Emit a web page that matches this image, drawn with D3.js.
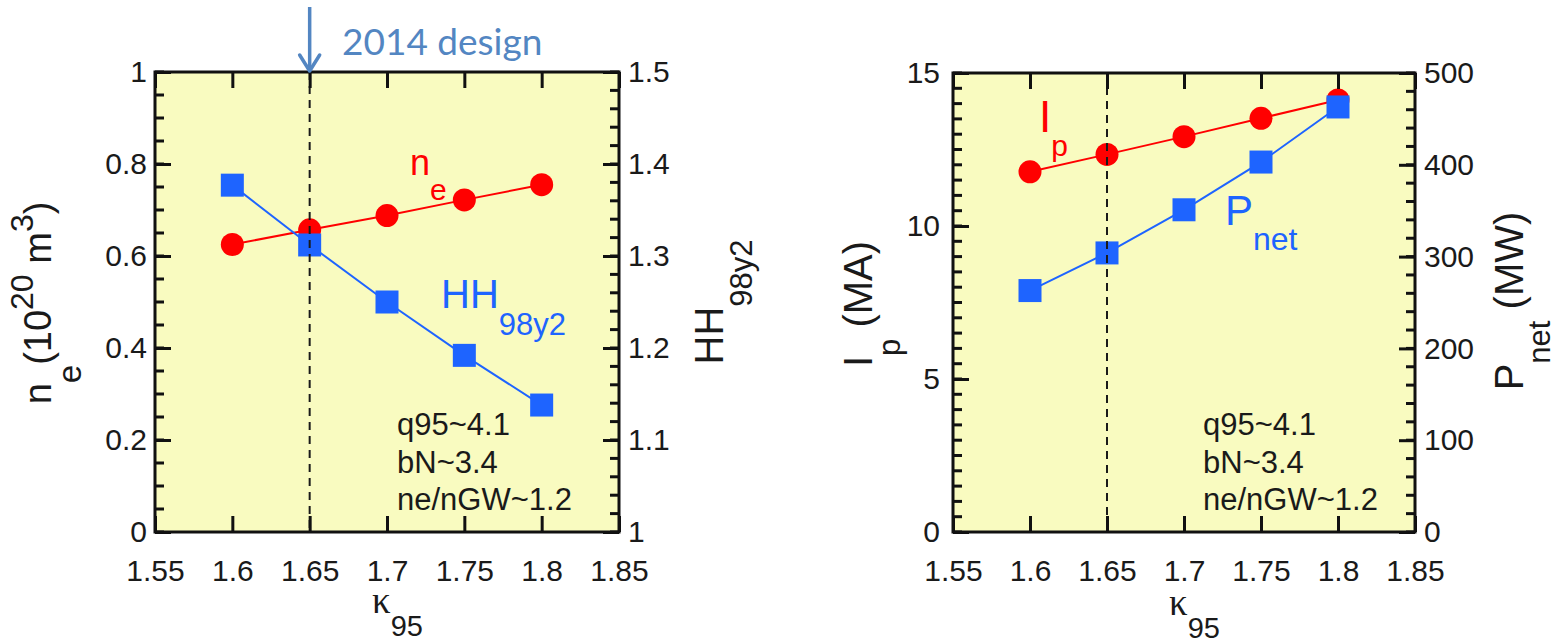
<!DOCTYPE html>
<html>
<head>
<meta charset="utf-8">
<script src="https://cdn.jsdelivr.net/npm/d3@7/dist/d3.min.js"></script>
<style>
  html, body { margin: 0; padding: 0; background: #ffffff; }
  svg { display: block; }
  text { font-family: "Liberation Sans", Arial, Helvetica, sans-serif; }
</style>
</head>
<body>
<svg id="chart" width="1566" height="643"></svg>
<script>
// Elongation scan: density / confinement (left) and plasma current / net power (right)
const kappa = [1.6, 1.65, 1.7, 1.75, 1.8];
const neVals = [0.625, 0.657, 0.688, 0.722, 0.755];      // 10^20 m^-3
const hhVals = [1.377, 1.312, 1.250, 1.192, 1.138];      // HH98y2
const ipVals = [11.77, 12.34, 12.92, 13.52, 14.12];      // MA
const pnetVals = [263, 304, 351, 403, 463];              // MW

const kappaTicks = [1.55, 1.6, 1.65, 1.7, 1.75, 1.8, 1.85];
const neTicks = [0, 0.2, 0.4, 0.6, 0.8, 1];
const hhTicks = [1, 1.1, 1.2, 1.3, 1.4, 1.5];
const ipTicks = [0, 5, 10, 15];
const pnetTicks = [0, 100, 200, 300, 400, 500];
const designKappa = 1.65;
const notes = ["q95~4.1", "bN~3.4", "ne/nGW~1.2"];

const RED = "#ff0000";
const BLUE = "#1e64ff";
const FILL = "#f9fbc0";
const ANNOT = "#5386c2";
const INK = "#111111";

const svg = d3.select("#chart");

function steps(lo, hi, step) {
  const n = Math.round((hi - lo) / step);
  return d3.range(n + 1).map(i => +(lo + i * step).toFixed(6));
}

function panel(cfg) {
  const x = d3.scaleLinear().domain([1.55, 1.85]).range([cfg.x0, cfg.x1]);
  const yL = d3.scaleLinear().domain(cfg.yLDomain).range([cfg.bottom, cfg.top]);
  const yR = d3.scaleLinear().domain(cfg.yRDomain).range([cfg.bottom, cfg.top]);
  const g = svg.append("g");

  g.append("rect")
    .attr("x", cfg.x0).attr("y", cfg.top)
    .attr("width", cfg.x1 - cfg.x0).attr("height", cfg.bottom - cfg.top)
    .attr("fill", FILL);

  // series A: red circles
  const lineA = d3.line().x((d, i) => x(kappa[i])).y(d => yL(d));
  g.append("path").datum(cfg.seriesA)
    .attr("d", lineA).attr("fill", "none").attr("stroke", RED).attr("stroke-width", 2);
  g.selectAll(".ca").data(cfg.seriesA).enter().append("circle")
    .attr("cx", (d, i) => x(kappa[i])).attr("cy", d => yL(d))
    .attr("r", 11.5).attr("fill", RED);

  // series B: blue squares on the right axis
  const lineB = d3.line().x((d, i) => x(kappa[i])).y(d => yR(d));
  g.append("path").datum(cfg.seriesB)
    .attr("d", lineB).attr("fill", "none").attr("stroke", BLUE).attr("stroke-width", 2);
  const s = 23;
  g.selectAll(".sb").data(cfg.seriesB).enter().append("rect")
    .attr("x", (d, i) => x(kappa[i]) - s / 2).attr("y", d => yR(d) - s / 2)
    .attr("width", s).attr("height", s).attr("fill", BLUE);

  // design point marker
  g.append("line")
    .attr("x1", x(designKappa)).attr("x2", x(designKappa))
    .attr("y1", cfg.top).attr("y2", cfg.bottom)
    .attr("stroke", "#1a1a1a").attr("stroke-width", 2)
    .attr("stroke-dasharray", "8,6");

  // minor ticks on both vertical axes, pointing inward
  g.append("g").attr("class", "minor")
    .selectAll("line").data(cfg.yLMinor).enter().append("line")
    .attr("x1", cfg.x0).attr("x2", cfg.x0 + 9)
    .attr("y1", d => yL(d)).attr("y2", d => yL(d))
    .attr("stroke", INK).attr("stroke-width", 3);
  g.append("g").attr("class", "minor")
    .selectAll("line").data(cfg.yRMinor).enter().append("line")
    .attr("x1", cfg.x1).attr("x2", cfg.x1 - 9)
    .attr("y1", d => yR(d)).attr("y2", d => yR(d))
    .attr("stroke", INK).attr("stroke-width", 3);

  // major axes with inward ticks
  const styleAxis = sel => {
    sel.select(".domain").remove();
    sel.selectAll(".tick line").attr("stroke", INK).attr("stroke-width", 3);
    sel.selectAll(".tick text").attr("fill", "#1a1a1a")
      .style("font-family", '"Liberation Sans", Arial, sans-serif')
      .style("font-size", "30px");
  };
  const fmt = d3.format("~g");
  const blank = () => "";

  g.append("g").attr("transform", `translate(0,${cfg.bottom})`)
    .call(d3.axisBottom(x).tickValues(kappaTicks).tickSize(-16).tickPadding(28).tickFormat(fmt))
    .call(styleAxis);
  g.append("g").attr("transform", `translate(0,${cfg.top})`)
    .call(d3.axisTop(x).tickValues(kappaTicks).tickSize(-16).tickFormat(blank))
    .call(styleAxis);

  g.append("g").attr("transform", `translate(${cfg.x0},0)`)
    .call(d3.axisLeft(yL).tickValues(cfg.yLTicks).tickSize(-16).tickPadding(cfg.padL).tickFormat(fmt))
    .call(styleAxis);
  g.append("g").attr("transform", `translate(${cfg.x1},0)`)
    .call(d3.axisRight(yR).tickValues(cfg.yRTicks).tickSize(-16).tickPadding(9).tickFormat(fmt))
    .call(styleAxis);

  g.append("rect")
    .attr("x", cfg.x0).attr("y", cfg.top)
    .attr("width", cfg.x1 - cfg.x0).attr("height", cfg.bottom - cfg.top)
    .attr("fill", "none").attr("stroke", INK).attr("stroke-width", 3);

  // x-axis title: kappa_95
  const xt = g.append("text")
    .attr("x", (cfg.x0 + cfg.x1) / 2 - 15).attr("y", cfg.xTitleY)
    .attr("fill", "#1a1a1a");
  xt.append("tspan").text("κ")
    .style("font-family", '"Liberation Serif", "Times New Roman", serif').style("font-size", "37px");
  xt.append("tspan").text("95").attr("dy", 23).style("font-size", "29px");

  // parameter notes
  const nt = g.append("text").attr("fill", "#1a1a1a").style("font-size", "31px");
  notes.forEach((t, i) => {
    nt.append("tspan").attr("x", cfg.noteX).attr("y", cfg.noteY + i * 37.5).text(t);
  });

  return { g, x, yL, yR };
}

function label(g, x, y, parts, color, rotate) {
  const t = g.append("text").attr("fill", color)
    .attr("text-anchor", rotate ? "middle" : "start")
    .attr("transform", rotate ? `translate(${x},${y}) rotate(-90)` : `translate(${x},${y})`);
  let shift = 0;
  parts.forEach(p => {
    const sp = t.append("tspan").text(p.t).style("font-size", p.size + "px");
    const target = p.dy || 0;
    if (target !== shift) { sp.attr("dy", target - shift); shift = target; }
  });
  return t;
}

// left panel: n_e and HH98y2
const L = panel({
  x0: 155, x1: 619, top: 72, bottom: 532,
  yLDomain: [0, 1], yRDomain: [1, 1.5],
  yLTicks: neTicks, yLMinor: steps(0, 1, 0.05),
  yRTicks: hhTicks, yRMinor: steps(1, 1.5, 0.02),
  seriesA: neVals, seriesB: hhVals,
  padL: 8, xTitleY: 613, noteX: 397, noteY: 435
});

// right panel: I_p and P_net
const R = panel({
  x0: 953, x1: 1415, top: 73, bottom: 532,
  yLDomain: [0, 15], yRDomain: [0, 500],
  yLTicks: ipTicks, yLMinor: steps(0, 15, 0.5),
  yRTicks: pnetTicks, yRMinor: steps(0, 500, 20),
  seriesA: ipVals, seriesB: pnetVals,
  padL: 13, xTitleY: 615, noteX: 1203, noteY: 435
});

// axis titles
label(L.g, 51, 303, [
  { t: "n", size: 38 }, { t: "e", size: 33, dy: 30 }, { t: "(10", size: 38 },
  { t: "20", size: 32, dy: -18 }, { t: " m", size: 38 }, { t: "3", size: 32, dy: -18 },
  { t: ")", size: 38 }
], "#1a1a1a", true);
label(L.g, 723, 302, [
  { t: "HH", size: 40 }, { t: "98y2", size: 31, dy: 29 }
], "#1a1a1a", true);
label(R.g, 872, 304, [
  { t: "I", size: 40 }, { t: "p", size: 31, dy: 28 }, { t: " (MA)", size: 40 }
], "#1a1a1a", true);
label(R.g, 1523, 301, [
  { t: "P", size: 40 }, { t: "net", size: 31, dy: 27 }, { t: " (MW)", size: 40 }
], "#1a1a1a", true);

// series labels inside the panels
label(L.g, 410, 175, [{ t: "n", size: 36 }, { t: "e", size: 30, dy: 25 }], RED, false);
label(L.g, 441, 308, [{ t: "HH", size: 40 }, { t: "98y2", size: 31, dy: 27 }], BLUE, false);
label(R.g, 1039, 132, [{ t: "I", size: 44 }, { t: "p", size: 30, dy: 24 }], RED, false);
label(R.g, 1225, 225, [{ t: "P", size: 42 }, { t: "net", size: 32, dy: 25 }], BLUE, false);

// 2014 design arrow above the left panel
const ax = L.x(designKappa);
svg.append("line").attr("x1", ax).attr("x2", ax).attr("y1", 7).attr("y2", 70)
  .attr("stroke", ANNOT).attr("stroke-width", 3.5);
svg.append("path")
  .attr("d", `M${ax - 10},${55} L${ax},${71} L${ax + 10},${55}`)
  .attr("fill", "none").attr("stroke", ANNOT).attr("stroke-width", 3.5)
  .attr("stroke-linejoin", "round").attr("stroke-linecap", "round");
svg.append("text").attr("x", 342).attr("y", 55)
  .attr("fill", ANNOT)
  .style("font-family", 'Lato, "Open Sans", sans-serif').style("font-size", "37px")
  .text("2014 design");
</script>
</body>
</html>
